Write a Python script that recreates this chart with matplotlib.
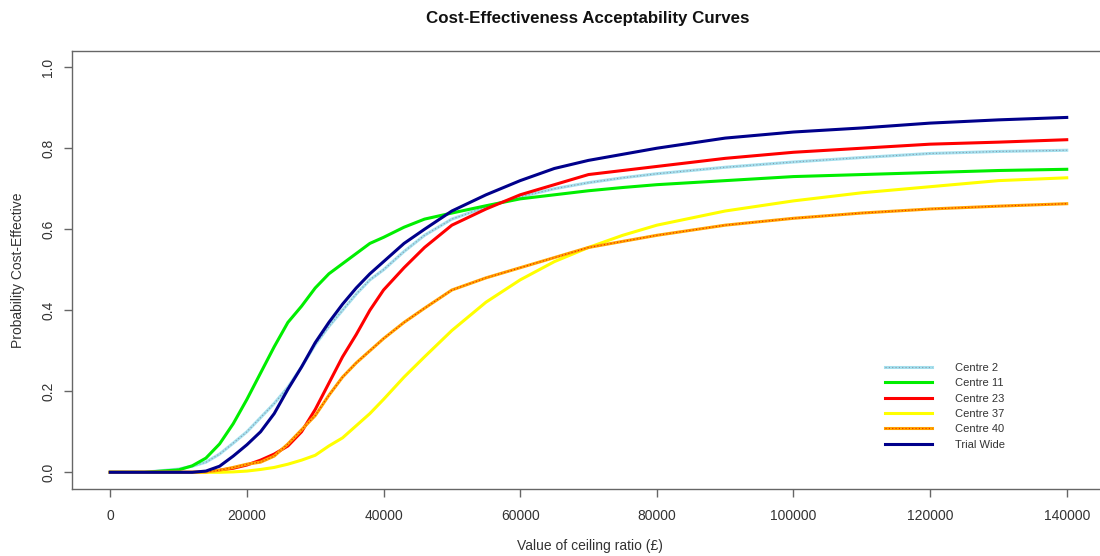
import matplotlib.pyplot as plt
from matplotlib.lines import Line2D

# ceiling ratio values (GBP)
ceiling = [0, 5000, 10000, 12000, 14000, 16000, 18000, 20000, 22000, 24000,
           26000, 28000, 30000, 32000, 34000, 36000, 38000, 40000, 43000, 46000,
           50000, 55000, 60000, 65000, 70000, 75000, 80000, 90000, 100000,
           110000, 120000, 130000, 140000]

centre_2 = [0, 0, 0.008, 0.015, 0.025, 0.045, 0.072, 0.10, 0.135, 0.17,
            0.21, 0.26, 0.315, 0.36, 0.40, 0.44, 0.475, 0.50, 0.545, 0.585,
            0.625, 0.655, 0.68, 0.70, 0.715, 0.727, 0.737, 0.753, 0.766,
            0.777, 0.787, 0.792, 0.795]
centre_11 = [0, 0, 0.006, 0.016, 0.035, 0.07, 0.12, 0.18, 0.245, 0.31,
             0.37, 0.41, 0.455, 0.49, 0.515, 0.54, 0.565, 0.58, 0.605, 0.625,
             0.64, 0.658, 0.675, 0.685, 0.695, 0.703, 0.71, 0.72, 0.73,
             0.735, 0.74, 0.745, 0.748]
centre_23 = [0, 0, 0, 0, 0.001, 0.005, 0.01, 0.018, 0.03, 0.045,
             0.065, 0.10, 0.155, 0.22, 0.285, 0.34, 0.40, 0.45, 0.505, 0.555,
             0.61, 0.65, 0.685, 0.71, 0.735, 0.745, 0.755, 0.775, 0.79,
             0.80, 0.81, 0.815, 0.821]
centre_37 = [0, 0, 0, 0, 0, 0, 0.001, 0.003, 0.007, 0.012,
             0.02, 0.03, 0.042, 0.065, 0.085, 0.115, 0.145, 0.18, 0.235, 0.285,
             0.35, 0.42, 0.475, 0.52, 0.555, 0.585, 0.61, 0.645, 0.67,
             0.69, 0.705, 0.72, 0.727]
centre_40 = [0, 0, 0, 0, 0.001, 0.005, 0.012, 0.02, 0.025, 0.04,
             0.07, 0.105, 0.14, 0.19, 0.235, 0.27, 0.30, 0.33, 0.37, 0.405,
             0.45, 0.48, 0.505, 0.53, 0.555, 0.57, 0.585, 0.61, 0.627,
             0.64, 0.65, 0.657, 0.663]
trial_wide = [0, 0, 0, 0, 0.003, 0.015, 0.04, 0.068, 0.10, 0.145,
              0.205, 0.26, 0.32, 0.37, 0.415, 0.455, 0.49, 0.52, 0.565, 0.60,
              0.645, 0.685, 0.72, 0.75, 0.77, 0.785, 0.80, 0.825, 0.84,
              0.85, 0.862, 0.87, 0.876]

x_ticks = [0, 20000, 40000, 60000, 80000, 100000, 120000, 140000]
y_ticks = [0.0, 0.2, 0.4, 0.6, 0.8, 1.0]

plt.rcParams['font.family'] = ['Liberation Sans', 'DejaVu Sans']
txt = '#333333'
axc = '#666666'

fig = plt.figure(figsize=(11, 5.56), dpi=100)
ax = fig.add_axes([72 / 1100, 1 - 488.5 / 556, (1105 - 72) / 1100, (488.5 - 51) / 556])

lw = 2.2
ax.plot(ceiling, centre_2, color='#A5E0EE', lw=lw)
ax.plot(ceiling, centre_2, color='#8899AA', lw=0.8, ls=(0, (1, 2)))
ax.plot(ceiling, centre_11, color='#00EE00', lw=lw)
ax.plot(ceiling, centre_23, color='#FF0000', lw=lw)
ax.plot(ceiling, centre_37, color='#FFFF00', lw=lw)
ax.plot(ceiling, centre_40, color='#FFA500', lw=lw)
ax.plot(ceiling, centre_40, color='#EE2200', lw=0.8, ls=(0, (1, 2)))
ax.plot(ceiling, trial_wide, color='#00008B', lw=lw)

ax.set_xlim(-5600, 145600)
ax.set_ylim(-0.04, 1.04)
ax.set_xticks(x_ticks)
ax.set_xticklabels([str(v) for v in x_ticks])
ax.set_yticks(y_ticks)
ax.set_yticklabels([f'{v:.1f}' for v in y_ticks], rotation=90, va='center')

for s in ax.spines.values():
    s.set_color(axc)
    s.set_linewidth(1.0)
ax.tick_params(colors=axc, labelcolor=txt, labelsize=10, length=6, width=1.0)
ax.tick_params(axis='x', pad=9)
ax.tick_params(axis='y', pad=6)

fig.text(588 / 1100, 1 - 18 / 556, 'Cost-Effectiveness Acceptability Curves',
         ha='center', va='center', fontsize=12.2, fontweight='bold', color='#111111')
fig.text(590 / 1100, 1 - 546 / 556, 'Value of ceiling ratio (£)',
         ha='center', va='center', fontsize=10, color=txt)
fig.text(18 / 1100, 1 - 270 / 556, 'Probability Cost-Effective',
         ha='center', va='center', fontsize=10, color=txt, rotation=90)

handles = [
    (Line2D([], [], color='#A5E0EE', lw=lw), Line2D([], [], color='#8899AA', lw=0.8, ls=(0, (1, 2)))),
    Line2D([], [], color='#00EE00', lw=lw),
    Line2D([], [], color='#FF0000', lw=lw),
    Line2D([], [], color='#FFFF00', lw=lw),
    (Line2D([], [], color='#FFA500', lw=lw), Line2D([], [], color='#EE2200', lw=0.8, ls=(0, (1, 2)))),
    Line2D([], [], color='#00008B', lw=lw),
]
labels = ['Centre 2', 'Centre 11', 'Centre 23', 'Centre 37', 'Centre 40', 'Trial Wide']
leg = fig.legend(handles, labels, loc='upper left', bbox_to_anchor=(885 / 1100, 1 - 363 / 556),
                 bbox_transform=fig.transFigure, frameon=False, fontsize=8,
                 handlelength=4.2, handletextpad=2.1, labelspacing=0.48, borderpad=0,
                 borderaxespad=0)
for t in leg.get_texts():
    t.set_color(txt)

fig.savefig('out.png', dpi=100)
